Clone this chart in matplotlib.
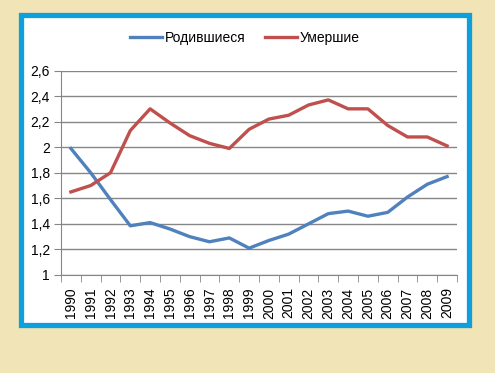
import numpy as np
import matplotlib.pyplot as plt
from matplotlib.patches import Rectangle

plt.rcParams['font.family'] = ['Liberation Sans', 'DejaVu Sans']

years = [str(y) for y in range(1990, 2010)]
born = [1.99, 1.80, 1.59, 1.385, 1.41, 1.36, 1.30, 1.26, 1.29, 1.21,
        1.27, 1.32, 1.40, 1.48, 1.50, 1.46, 1.49, 1.61, 1.71, 1.77]
died = [1.65, 1.70, 1.80, 2.13, 2.30, 2.19, 2.09, 2.03, 1.99, 2.14,
        2.22, 2.25, 2.33, 2.37, 2.30, 2.30, 2.17, 2.08, 2.08, 2.01]
yticks = [1, 1.2, 1.4, 1.6, 1.8, 2, 2.2, 2.4, 2.6]
ylabels = ['1', '1,2', '1,4', '1,6', '1,8', '2', '2,2', '2,4', '2,6']

fig = plt.figure(figsize=(4.95, 3.73), dpi=100, facecolor='#F1E4B6')

# white panel with blue frame
fig.patches.append(Rectangle((20.5 / 495, 1 - 324.5 / 373), 448 / 495, 310 / 373,
                             transform=fig.transFigure, facecolor='white',
                             edgecolor='#0DA0DC', linewidth=3.8, zorder=-1))

ax = fig.add_axes([61 / 495, 1 - 275 / 373, 396 / 495, 204.5 / 373])
ax.set_facecolor('none')
x = np.arange(len(years))
ax.plot(x, born, color='#4F81BD', lw=2.4, label='Родившиеся')
ax.plot(x, died, color='#C0504D', lw=2.4, label='Умершие')

ax.set_xlim(-0.5, len(years) - 0.5)
ax.set_ylim(1, 2.6)
ax.set_yticks(yticks)
ax.set_yticklabels(ylabels, fontsize=10)
ax.set_xticks(x)
ax.set_xticklabels(years, rotation=90, fontsize=10)
ax.set_xticks(np.arange(-0.5, len(years)), minor=True)
ax.tick_params(axis='x', which='major', length=0, pad=9)
ax.tick_params(axis='x', which='minor', length=5, color='#868686', direction='out')
ax.tick_params(axis='y', length=5, color='#868686', pad=3)
ax.grid(axis='y', color='#868686', lw=1)
ax.set_axisbelow(True)
for s in ['top', 'right']:
    ax.spines[s].set_visible(False)
for s in ['left', 'bottom']:
    ax.spines[s].set_color('#868686')

fig.legend(loc='center', bbox_to_anchor=(0.495, 1 - 38 / 373), ncol=2,
           frameon=False, fontsize=10, handlelength=2.3, handletextpad=0.2,
           columnspacing=1.4)

fig.savefig('out.png', dpi=100, facecolor=fig.get_facecolor())
